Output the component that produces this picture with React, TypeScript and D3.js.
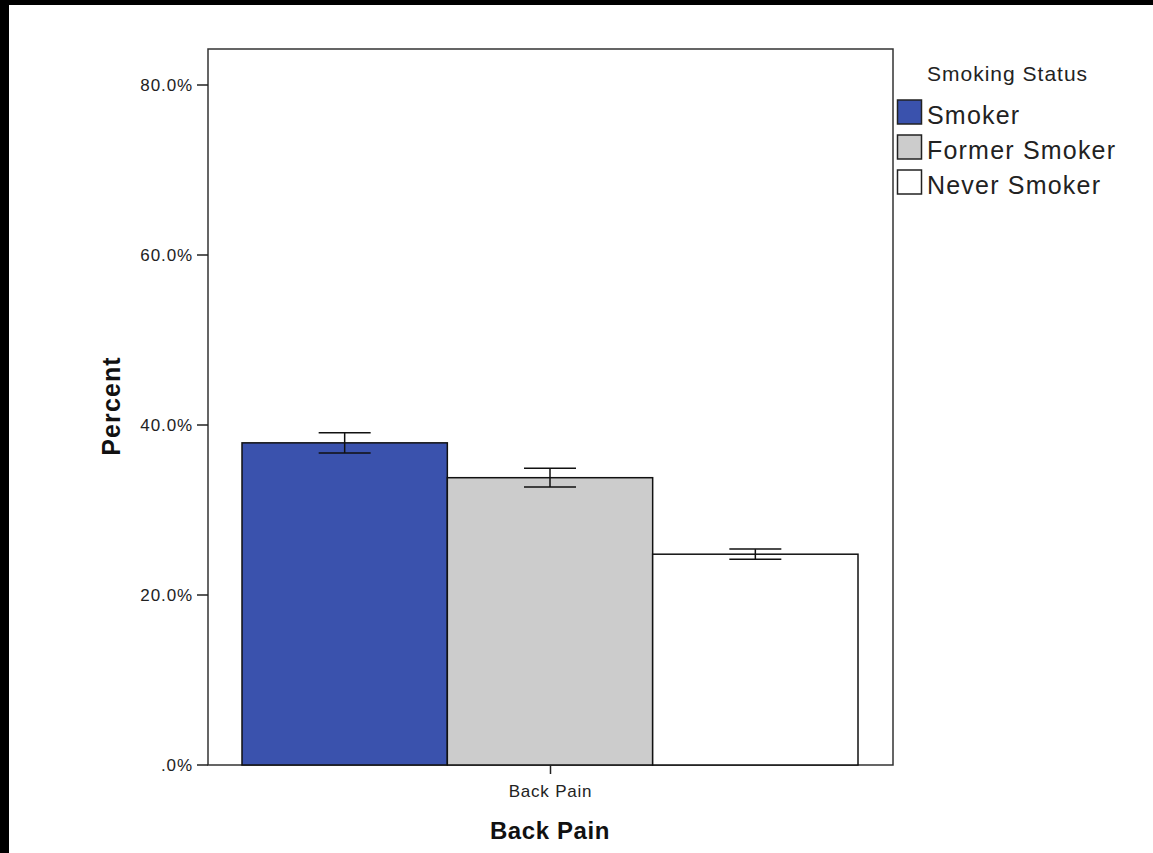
import React, { useEffect, useRef } from "react";
import * as d3 from "d3";

const groups = ["Smoker", "Former Smoker", "Never Smoker"];
const percents = [37.9, 33.8, 24.8];
const ciLow = [36.7, 32.7, 24.2];
const ciHigh = [39.1, 34.9, 25.4];
const fills = ["#3a52ad", "#cccccc", "#ffffff"];
const categories = ["Back Pain"];
const yTicks = [0, 20, 40, 60, 80];

const W = 1153;
const H = 853;
const FONT = "Arial, 'Liberation Sans', sans-serif";

export default function App() {
  const ref = useRef<SVGSVGElement | null>(null);

  useEffect(() => {
    const svg = d3.select(ref.current);
    svg.selectAll("*").remove();

    // page frame (dark band at top and left)
    svg.append("rect").attr("x", 0).attr("y", 0).attr("width", W).attr("height", H).attr("fill", "#fff");
    svg.append("rect").attr("x", 0).attr("y", 0).attr("width", W).attr("height", 5).attr("fill", "#000");
    svg.append("rect").attr("x", 0).attr("y", 0).attr("width", 9).attr("height", H).attr("fill", "#000");

    const plot = { left: 208, right: 893, top: 49, bottom: 765 };

    const y = d3.scaleLinear().domain([0, 80]).range([plot.bottom, 85]);
    const xCat = d3.scaleBand().domain(categories).range([plot.left, plot.right]).paddingInner(0).paddingOuter(0.05);
    const xGroup = d3.scaleBand().domain(groups).range([242, 858]);

    // data box
    svg
      .append("rect")
      .attr("x", plot.left)
      .attr("y", plot.top)
      .attr("width", plot.right - plot.left)
      .attr("height", plot.bottom - plot.top)
      .attr("fill", "none")
      .attr("stroke", "#333")
      .attr("stroke-width", 1.5);

    // bars
    const g = svg.append("g");
    groups.forEach((grp, i) => {
      g.append("rect")
        .attr("x", xGroup(grp)!)
        .attr("y", y(percents[i]))
        .attr("width", xGroup.bandwidth())
        .attr("height", y(0) - y(percents[i]))
        .attr("fill", fills[i])
        .attr("stroke", "#111")
        .attr("stroke-width", 1.5);
    });

    // error bars
    groups.forEach((grp, i) => {
      const cx = xGroup(grp)! + xGroup.bandwidth() / 2;
      const half = 26;
      g.append("line")
        .attr("x1", cx).attr("x2", cx)
        .attr("y1", y(ciHigh[i])).attr("y2", y(ciLow[i]))
        .attr("stroke", "#111").attr("stroke-width", 1.5);
      [ciHigh[i], ciLow[i]].forEach((v) => {
        g.append("line")
          .attr("x1", cx - half).attr("x2", cx + half)
          .attr("y1", y(v)).attr("y2", y(v))
          .attr("stroke", "#111").attr("stroke-width", 1.5);
      });
    });

    // y axis ticks and labels
    yTicks.forEach((t) => {
      svg.append("line")
        .attr("x1", plot.left - 11).attr("x2", plot.left)
        .attr("y1", y(t)).attr("y2", y(t))
        .attr("stroke", "#222").attr("stroke-width", 1.5);
      svg.append("text")
        .attr("x", plot.left - 15)
        .attr("y", y(t))
        .attr("dy", "0.36em")
        .attr("text-anchor", "end")
        .attr("font-family", FONT)
        .attr("font-size", 17)
        .attr("letter-spacing", 0.9)
        .attr("fill", "#222")
        .text(t === 0 ? ".0%" : `${t.toFixed(1)}%`);
    });

    // x axis tick and label
    categories.forEach((c) => {
      const cx = xCat(c)! + xCat.bandwidth() / 2;
      svg.append("line")
        .attr("x1", cx).attr("x2", cx)
        .attr("y1", plot.bottom).attr("y2", plot.bottom + 9)
        .attr("stroke", "#222").attr("stroke-width", 1.5);
      svg.append("text")
        .attr("x", cx)
        .attr("y", 797)
        .attr("text-anchor", "middle")
        .attr("font-family", FONT)
        .attr("font-size", 17)
        .attr("letter-spacing", 0.8)
        .attr("fill", "#222")
        .text(c);
    });

    // axis titles
    svg.append("text")
      .attr("x", 550)
      .attr("y", 839)
      .attr("text-anchor", "middle")
      .attr("font-family", FONT)
      .attr("font-size", 24)
      .attr("letter-spacing", 0.6)
      .attr("font-weight", "bold")
      .attr("fill", "#111")
      .text("Back Pain");
    svg.append("text")
      .attr("transform", `translate(120, 406) rotate(-90)`)
      .attr("text-anchor", "middle")
      .attr("font-family", FONT)
      .attr("font-size", 25)
      .attr("letter-spacing", 1.1)
      .attr("font-weight", "bold")
      .attr("fill", "#111")
      .text("Percent");

    // legend
    const lg = svg.append("g");
    lg.append("text")
      .attr("x", 927)
      .attr("y", 81)
      .attr("font-family", FONT)
      .attr("font-size", 21)
      .attr("letter-spacing", 1.0)
      .attr("fill", "#222")
      .text("Smoking Status");
    groups.forEach((grp, i) => {
      const top = 100 + i * 35;
      lg.append("rect")
        .attr("x", 897.5)
        .attr("y", top)
        .attr("width", 24)
        .attr("height", 24)
        .attr("fill", fills[i])
        .attr("stroke", "#222")
        .attr("stroke-width", 1.5);
      lg.append("text")
        .attr("x", 927)
        .attr("y", top + 24)
        .attr("font-family", FONT)
        .attr("font-size", 25)
        .attr("letter-spacing", 1.2)
        .attr("fill", "#222")
        .text(grp);
    });
  }, []);

  return (
    <svg
      ref={ref}
      width={W}
      height={H}
      style={{ position: "absolute", left: 0, top: 0, display: "block" }}
    />
  );
}
